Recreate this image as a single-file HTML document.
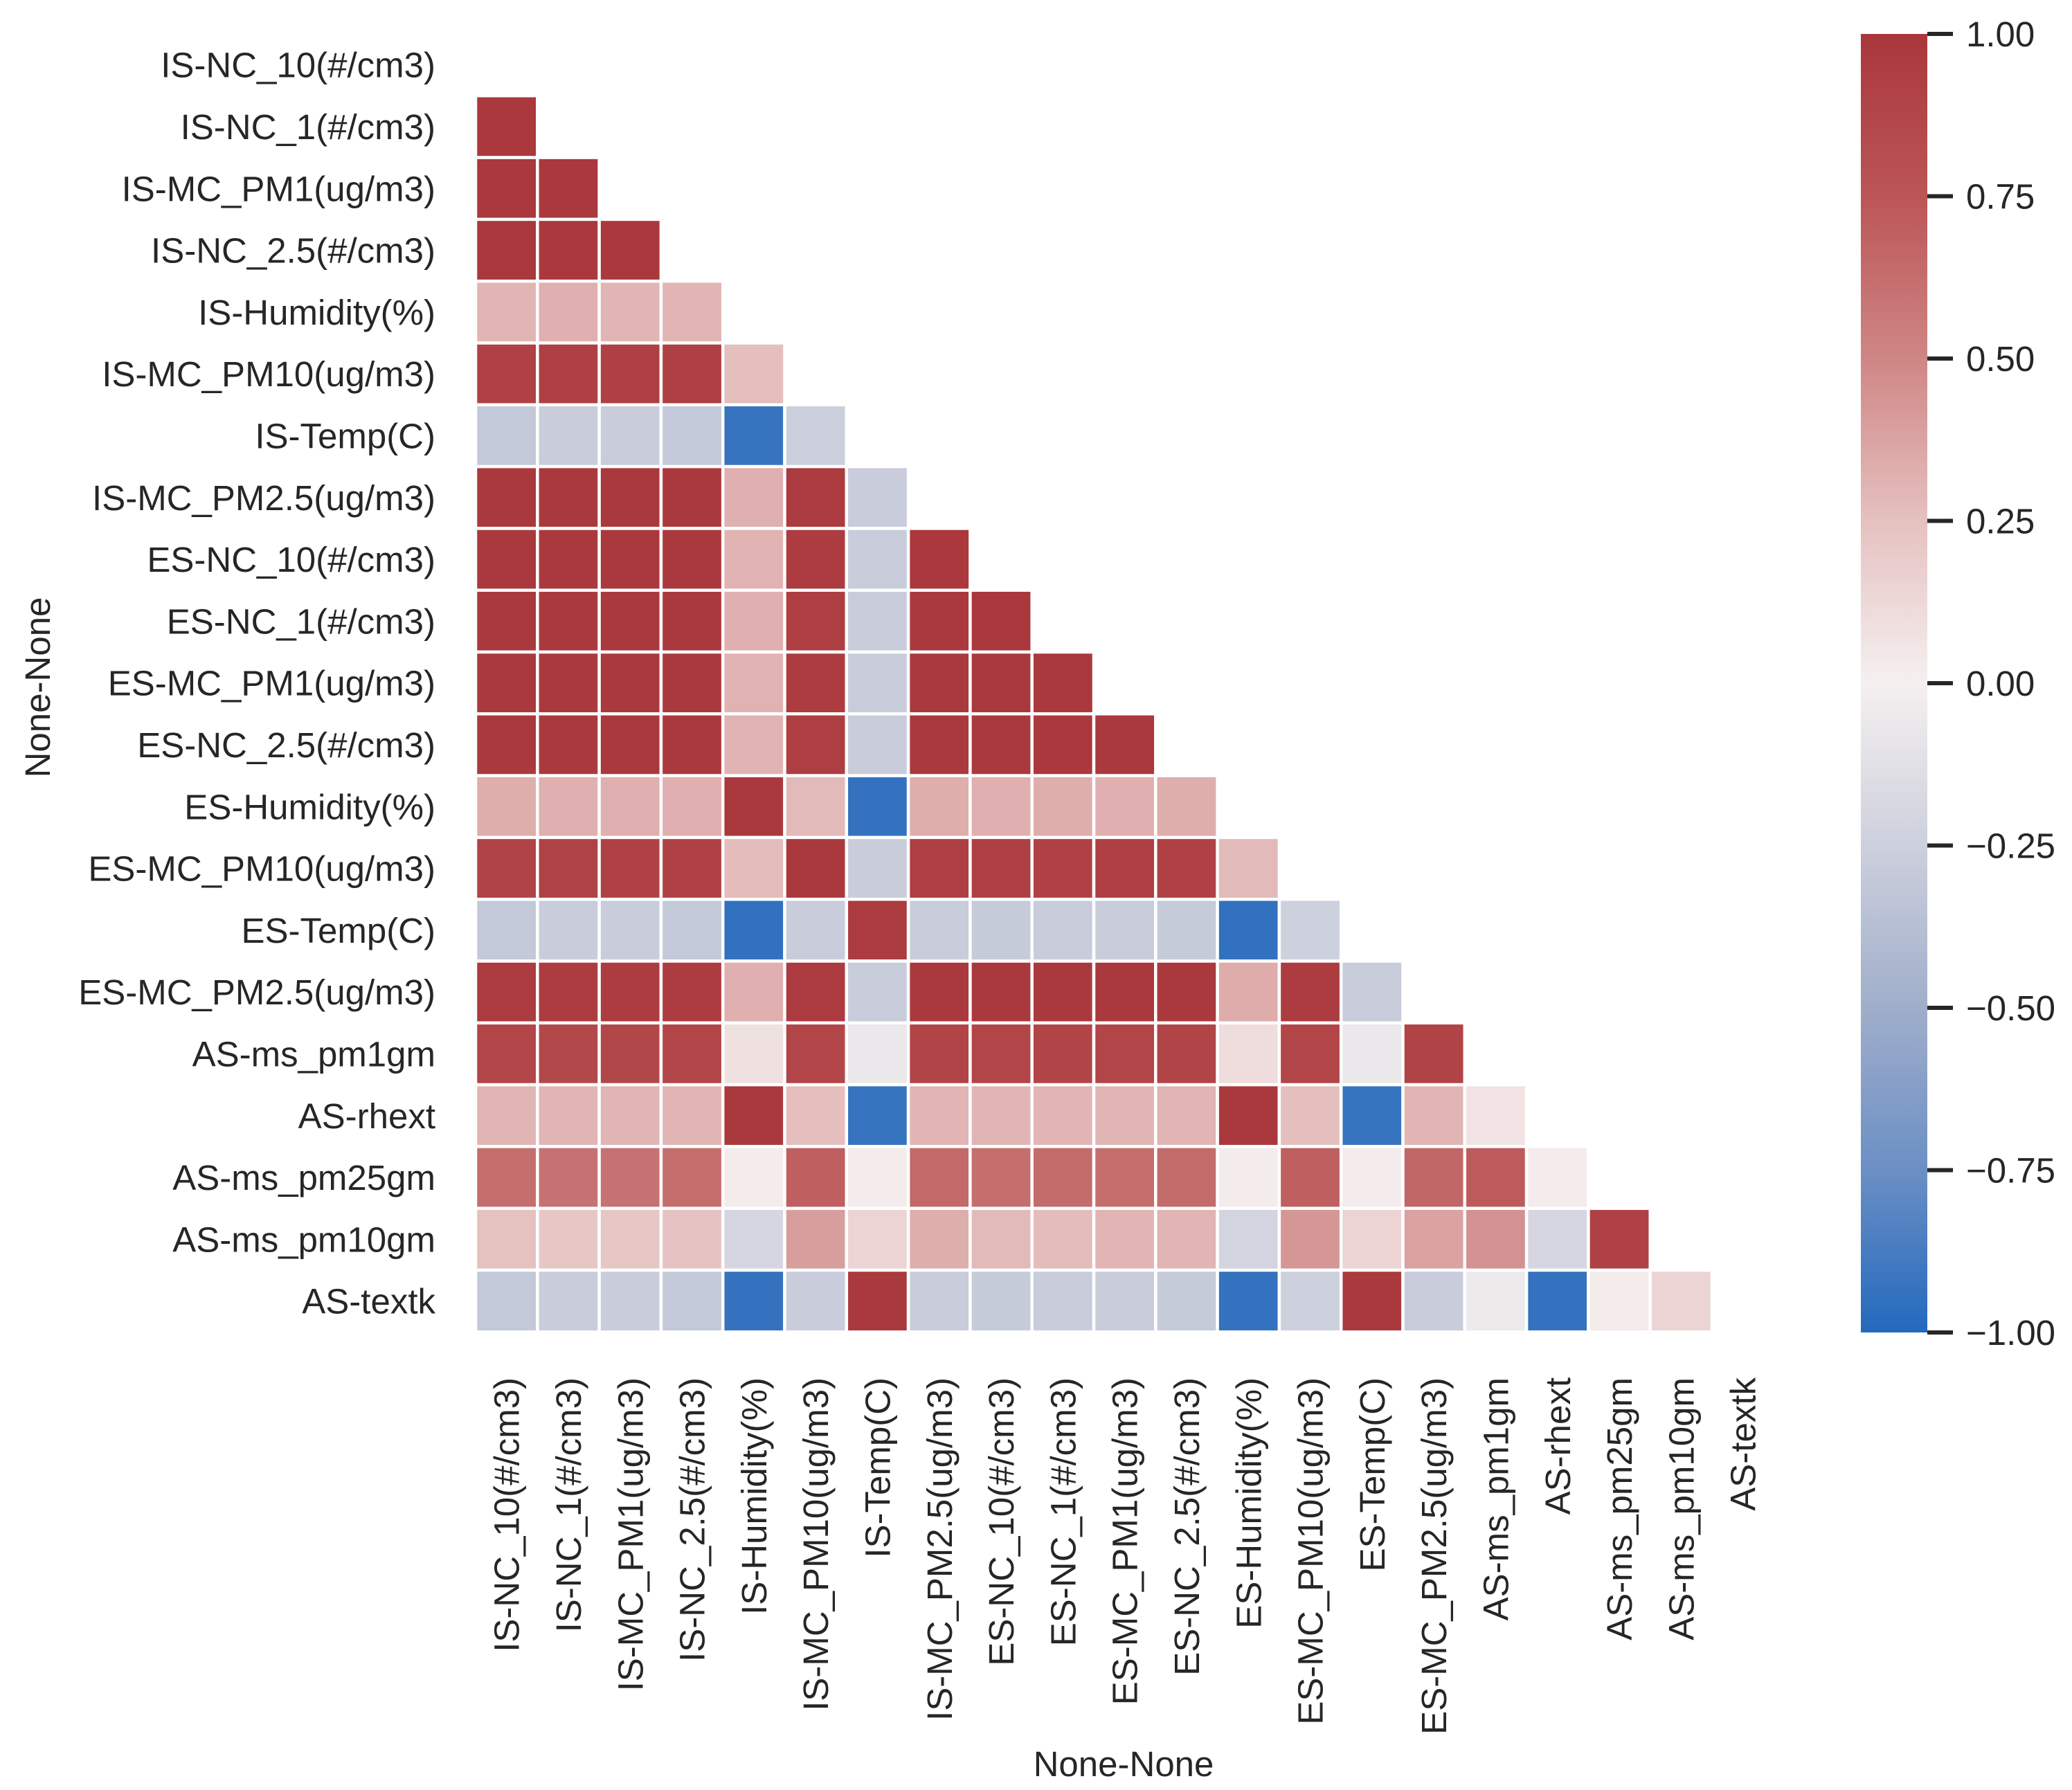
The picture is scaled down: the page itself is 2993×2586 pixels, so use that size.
<!DOCTYPE html>
<html><head><meta charset="utf-8"><style>
html,body{margin:0;padding:0;background:#fff;}
svg{display:block;font-family:"Liberation Sans",Arial,sans-serif;}
</style></head><body>
<svg id="chart" width="2993" height="2586" viewBox="0 0 2993 2586" xmlns="http://www.w3.org/2000/svg">
<defs>
<linearGradient id="cbgrad" x1="0" y1="1" x2="0" y2="0">
<stop offset="0" stop-color="#2369bd"/>
<stop offset="0.125" stop-color="#6b8fc5"/>
<stop offset="0.25" stop-color="#a0aeca"/>
<stop offset="0.375" stop-color="#cdd0dd"/>
<stop offset="0.5" stop-color="#f5f0f0"/>
<stop offset="0.625" stop-color="#e5c1c0"/>
<stop offset="0.75" stop-color="#cf8685"/>
<stop offset="0.875" stop-color="#bb5556"/>
<stop offset="1" stop-color="#a9373b"/>
</linearGradient>
</defs>
<g id="cells"></g>
<g id="ylabels"></g>
<g id="xlabels"></g>
<text x="1623" y="2566" font-size="51" fill="#262626" text-anchor="middle">None-None</text>
<text transform="translate(72,993) rotate(-90)" font-size="51" fill="#262626" text-anchor="middle">None-None</text>
<rect x="2688" y="49" width="96" height="1876" fill="url(#cbgrad)"/>
<g id="cbticks"></g>
</svg>
<script>
const labels = ["IS-NC_10(#/cm3)","IS-NC_1(#/cm3)","IS-MC_PM1(ug/m3)","IS-NC_2.5(#/cm3)","IS-Humidity(%)","IS-MC_PM10(ug/m3)","IS-Temp(C)","IS-MC_PM2.5(ug/m3)","ES-NC_10(#/cm3)","ES-NC_1(#/cm3)","ES-MC_PM1(ug/m3)","ES-NC_2.5(#/cm3)","ES-Humidity(%)","ES-MC_PM10(ug/m3)","ES-Temp(C)","ES-MC_PM2.5(ug/m3)","AS-ms_pm1gm","AS-rhext","AS-ms_pm25gm","AS-ms_pm10gm","AS-textk"];
const lowerRows = [
[],
[0.99],
[0.99,0.99],
[0.99,0.99,0.99],
[0.3,0.32,0.3,0.3],
[0.92,0.93,0.93,0.93,0.26],
[-0.3,-0.28,-0.28,-0.3,-0.93,-0.26],
[0.98,0.98,0.98,0.98,0.32,0.97,-0.28],
[0.98,0.98,0.98,0.98,0.31,0.96,-0.28,0.99],
[0.98,0.98,0.98,0.98,0.32,0.94,-0.28,0.98,0.99],
[0.98,0.98,0.98,0.98,0.31,0.96,-0.28,0.98,0.98,0.98],
[0.98,0.98,0.98,0.98,0.31,0.94,-0.28,0.98,0.98,0.99,0.98],
[0.33,0.32,0.32,0.32,0.98,0.28,-0.94,0.33,0.32,0.33,0.32,0.33],
[0.9,0.91,0.92,0.92,0.27,0.98,-0.27,0.94,0.93,0.92,0.93,0.92,0.28],
[-0.3,-0.28,-0.28,-0.3,-0.95,-0.27,0.97,-0.28,-0.29,-0.28,-0.28,-0.29,-0.95,-0.25],
[0.97,0.96,0.96,0.96,0.32,0.97,-0.28,0.98,0.98,0.98,0.98,0.98,0.34,0.96,-0.28],
[0.88,0.86,0.87,0.88,0.08,0.88,-0.06,0.89,0.88,0.89,0.88,0.89,0.1,0.88,-0.06,0.9],
[0.3,0.3,0.3,0.3,0.98,0.26,-0.93,0.3,0.3,0.3,0.3,0.3,0.98,0.26,-0.93,0.3,0.07],
[0.62,0.6,0.6,0.62,0.02,0.7,0.02,0.65,0.62,0.64,0.63,0.64,0.02,0.7,0.02,0.66,0.72,0.02],
[0.25,0.22,0.22,0.24,-0.2,0.4,0.15,0.33,0.28,0.27,0.3,0.3,-0.22,0.43,0.15,0.38,0.45,-0.2,0.92],
[-0.3,-0.28,-0.28,-0.3,-0.94,-0.27,0.98,-0.28,-0.29,-0.28,-0.28,-0.29,-0.94,-0.25,0.98,-0.28,-0.05,-0.94,0.03,0.15]
];
const cbTickValues = [1,0.75,0.5,0.25,0,-0.25,-0.5,-0.75,-1];
const cbTickLabels = ["1.00","0.75","0.50","0.25","0.00","\u22120.25","\u22120.50","\u22120.75","\u22121.00"];

const NS = "http://www.w3.org/2000/svg";
const X0 = 687, Y0 = 49, CELL = 89.3;
const CB_TOP = 49, CB_BOT = 1925;
function xPos(i){ return X0 + i*CELL; }
function yPos(i){ return Y0 + i*CELL; }
function cbY(v){ return CB_BOT - (v+1)/2*(CB_BOT-CB_TOP); }
const stops = [[-1,[35,105,189]],[-0.75,[107,143,197]],[-0.5,[160,174,202]],[-0.25,[205,208,221]],[0,[245,240,240]],[0.25,[229,193,192]],[0.5,[207,134,133]],[0.75,[187,85,86]],[1,[169,55,59]]];
function color(v){
  v=Math.max(-1,Math.min(1,v));
  for(let k=0;k<stops.length-1;k++){
    const a=stops[k],b=stops[k+1];
    if(v>=a[0]&&v<=b[0]){
      const t=(v-a[0])/(b[0]-a[0]);
      const c=a[1].map((x,j)=>Math.round(x+(b[1][j]-x)*t));
      return "rgb("+c.join(",")+")";
    }
  }
  return "#fff";
}
const cells=document.getElementById("cells");
lowerRows.forEach((row,r)=>{
  row.forEach((v,c)=>{
    const el=document.createElementNS(NS,"rect");
    
    
    el.setAttribute("x",xPos(c));
    el.setAttribute("y",yPos(r));
    el.setAttribute("width",CELL);
    el.setAttribute("height",CELL);
    el.setAttribute("fill",color(v));
    el.setAttribute("stroke","#fff");
    el.setAttribute("stroke-width","4.5");
    cells.appendChild(el);
  });
});
const yl=document.getElementById("ylabels"), xl=document.getElementById("xlabels");
labels.forEach((lab,i)=>{
  const t=document.createElementNS(NS,"text");
  
  
  t.setAttribute("x",629);
  t.setAttribute("y",yPos(i)+CELL/2+18);
  t.setAttribute("font-size","51");
  t.setAttribute("fill","#262626");
  t.setAttribute("text-anchor","end");
  t.textContent=lab;
  yl.appendChild(t);
  const u=document.createElementNS(NS,"text");
  
  
  u.setAttribute("transform","translate("+(xPos(i)+CELL/2+18)+",1990) rotate(-90)");
  u.setAttribute("font-size","51");
  u.setAttribute("fill","#262626");
  u.setAttribute("text-anchor","end");
  u.textContent=lab;
  xl.appendChild(u);
});
const cb=document.getElementById("cbticks");
cbTickValues.forEach((v,i)=>{
  const y=cbY(v);
  const ln=document.createElementNS(NS,"line");
  
  
  ln.setAttribute("x1",2784);ln.setAttribute("x2",2821);
  ln.setAttribute("y1",y);ln.setAttribute("y2",y);
  ln.setAttribute("stroke","#262626");ln.setAttribute("stroke-width","6");
  cb.appendChild(ln);
  const t=document.createElementNS(NS,"text");
  
  
  t.setAttribute("x",2840);
  t.setAttribute("y",y+18);
  t.setAttribute("font-size","51");
  t.setAttribute("fill","#262626");
  t.textContent=cbTickLabels[i];
  cb.appendChild(t);
});
</script>
</body></html>
